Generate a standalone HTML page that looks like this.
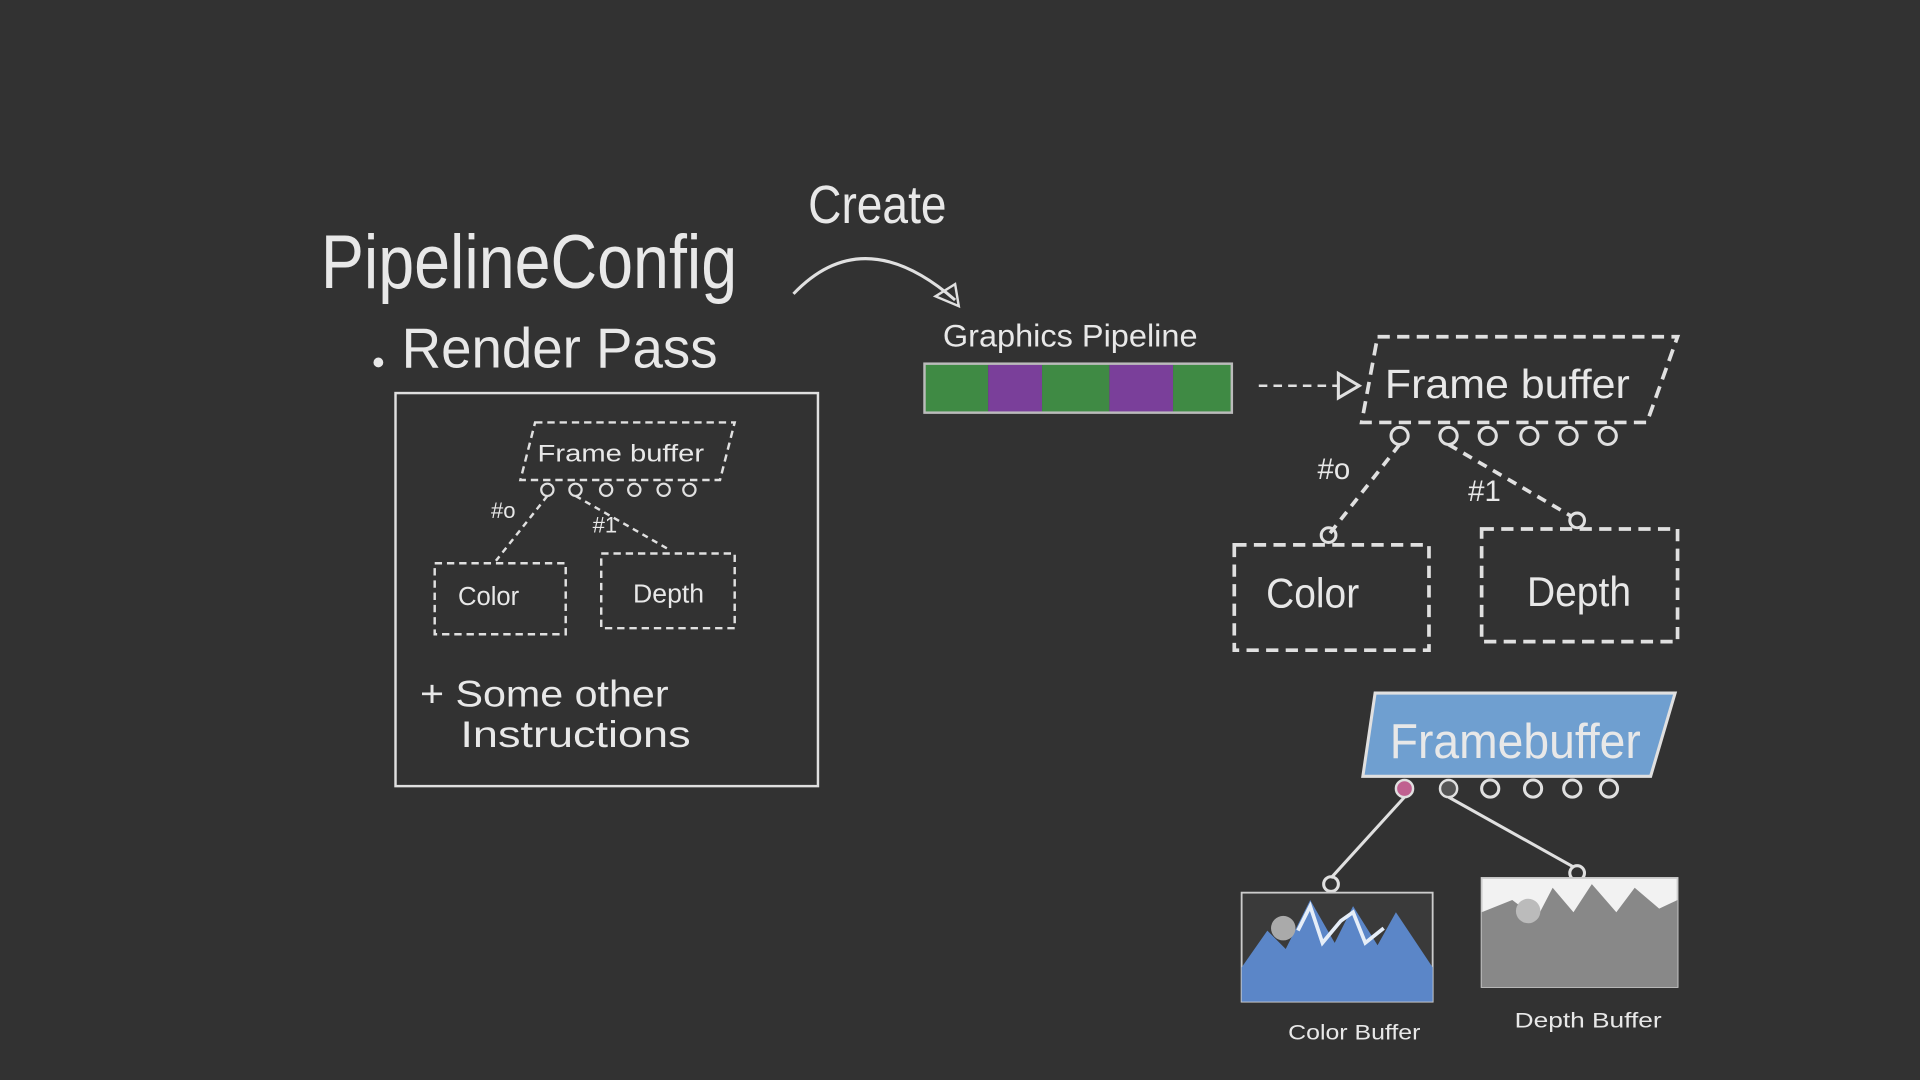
<!DOCTYPE html>
<html><head><meta charset="utf-8"><style>
html,body{margin:0;padding:0;background:#323232;}
svg{display:block}
text{font-family:"Liberation Sans",sans-serif;fill:#e8e8e8;}
</style></head><body>
<svg width="1920" height="1080" viewBox="0 0 1568 882" xmlns="http://www.w3.org/2000/svg">
<rect width="1568" height="882" fill="#323232"/>
<g stroke="#e0e0e0" fill="none" stroke-width="2">
<rect x="323" y="321" width="345" height="321"/>
<polygon points="437,345 600,345 588,392 425,392" stroke-dasharray="6,4"/>
<g stroke-width="1.8"><circle cx="447" cy="400" r="5"/><circle cx="470" cy="400" r="5"/><circle cx="495" cy="400" r="5"/><circle cx="518" cy="400" r="5"/><circle cx="542" cy="400" r="5"/><circle cx="563" cy="400" r="5"/></g>
<line x1="447" y1="405" x2="405" y2="458" stroke-dasharray="5,4"/>
<line x1="470" y1="405" x2="545" y2="448" stroke-dasharray="5,4"/>
<rect x="355" y="460" width="107" height="58" stroke-dasharray="6,4"/>
<rect x="491" y="452" width="109" height="61" stroke-dasharray="6,4"/>
<path d="M648,240 Q705,180 780,245" stroke-width="2.5"/>
<polygon points="783,250 764,242 780,232" stroke-width="2"/>
<rect x="755" y="297" width="52" height="40" fill="#3f8a44" stroke="none"/>
<rect x="807" y="297" width="44" height="40" fill="#7a3f9a" stroke="none"/>
<rect x="851" y="297" width="55" height="40" fill="#3f8a44" stroke="none"/>
<rect x="906" y="297" width="52" height="40" fill="#7a3f9a" stroke="none"/>
<rect x="958" y="297" width="48" height="40" fill="#3f8a44" stroke="none"/>
<rect x="755" y="297" width="251" height="40" stroke="#bbb"/>
<line x1="1028" y1="315" x2="1093" y2="315" stroke-dasharray="7,5"/>
<polygon points="1093,305 1110,315 1093,325" stroke-width="2.5"/>
<polygon points="1125,275 1370,275 1345,345 1112,345" stroke-width="3" stroke-dasharray="10,6"/>
<g stroke-width="2.5"><circle cx="1143" cy="356" r="7"/><circle cx="1183" cy="356" r="7"/><circle cx="1215" cy="356" r="7"/><circle cx="1249" cy="356" r="7"/><circle cx="1281" cy="356" r="7"/><circle cx="1313" cy="356" r="7"/></g>
<line x1="1143" y1="363" x2="1085" y2="437" stroke-width="3" stroke-dasharray="8,6"/>
<line x1="1183" y1="363" x2="1284" y2="422" stroke-width="3" stroke-dasharray="8,6"/>
<circle cx="1085" cy="437" r="6" stroke-width="2.5"/><circle cx="1288" cy="425" r="6" stroke-width="2.5"/>
<rect x="1008" y="445" width="159" height="86" stroke-width="3" stroke-dasharray="10,6"/>
<rect x="1210" y="432" width="160" height="92" stroke-width="3" stroke-dasharray="10,6"/>
<polygon points="1123,566 1368,566 1348,634 1113,634" fill="#6f9fd0" stroke="#e0e0e0" stroke-width="2.5"/>
<circle cx="1147" cy="644" r="7" fill="#c06090" stroke-width="2"/>
<circle cx="1183" cy="644" r="7" fill="#555" stroke-width="2"/>
<g stroke-width="2.5"><circle cx="1217" cy="644" r="7"/><circle cx="1252" cy="644" r="7"/><circle cx="1284" cy="644" r="7"/><circle cx="1314" cy="644" r="7"/></g>
<line x1="1147" y1="651" x2="1087" y2="717" stroke-width="2.5"/>
<line x1="1183" y1="651" x2="1285" y2="708" stroke-width="2.5"/>
<circle cx="1087" cy="722" r="6" stroke-width="2.5"/><circle cx="1288" cy="713" r="6" stroke-width="2.5"/>
</g>
<rect x="1014" y="729" width="156" height="89" fill="#3a3a3a" stroke="#ccc" stroke-width="1.5"/>
<polygon points="1014,818 1014,790 1035,760 1050,775 1070,735 1090,770 1105,740 1125,772 1140,745 1170,790 1170,818" fill="#5b86c8"/>
<polyline points="1060,760 1070,740 1080,770 1095,752 1105,745 1115,770 1130,758" fill="none" stroke="#e6eef8" stroke-width="3"/>
<circle cx="1048" cy="758" r="10" fill="#aaa"/>
<rect x="1210" y="717" width="160" height="89" fill="#f2f2f2" stroke="#ccc" stroke-width="1.5"/>
<polygon points="1210,806 1210,745 1235,735 1255,750 1268,725 1285,745 1300,722 1320,745 1335,725 1355,742 1370,735 1370,806" fill="#888"/>
<circle cx="1248" cy="744" r="10" fill="#bbb"/>
<g lengthAdjust="spacingAndGlyphs">
<text x="262" y="235" font-size="62" textLength="340" lengthAdjust="spacingAndGlyphs">PipelineConfig</text>
<circle cx="309" cy="296" r="4" fill="#e8e8e8"/>
<text x="328" y="300" font-size="46" textLength="258" lengthAdjust="spacingAndGlyphs">Render Pass</text>
<text x="660" y="182" font-size="44" textLength="113" lengthAdjust="spacingAndGlyphs">Create</text>
<text x="770" y="283" font-size="26" textLength="208" lengthAdjust="spacingAndGlyphs">Graphics Pipeline</text>
<text x="439" y="377" font-size="20" textLength="136" lengthAdjust="spacingAndGlyphs">Frame buffer</text>
<text x="401" y="423" font-size="18">#o</text>
<text x="484" y="435" font-size="18">#1</text>
<text x="374" y="494" font-size="21" textLength="50" lengthAdjust="spacingAndGlyphs">Color</text>
<text x="517" y="492" font-size="21" textLength="58" lengthAdjust="spacingAndGlyphs">Depth</text>
<text x="343" y="577" font-size="30" textLength="203" lengthAdjust="spacingAndGlyphs">+ Some other</text>
<text x="376" y="610" font-size="30" textLength="188" lengthAdjust="spacingAndGlyphs">Instructions</text>
<text x="1131" y="325" font-size="33" textLength="200" lengthAdjust="spacingAndGlyphs">Frame buffer</text>
<text x="1076" y="391" font-size="24">#o</text>
<text x="1199" y="409" font-size="24">#1</text>
<text x="1034" y="496" font-size="34" textLength="76" lengthAdjust="spacingAndGlyphs">Color</text>
<text x="1247" y="495" font-size="34" textLength="85" lengthAdjust="spacingAndGlyphs">Depth</text>
<text x="1135" y="619" font-size="40" fill="#fff" textLength="205" lengthAdjust="spacingAndGlyphs">Framebuffer</text>
<text x="1052" y="849" font-size="17" textLength="108" lengthAdjust="spacingAndGlyphs">Color  Buffer</text>
<text x="1237" y="839" font-size="17" textLength="120" lengthAdjust="spacingAndGlyphs">Depth  Buffer</text>
</g>
</svg>
</body></html>
